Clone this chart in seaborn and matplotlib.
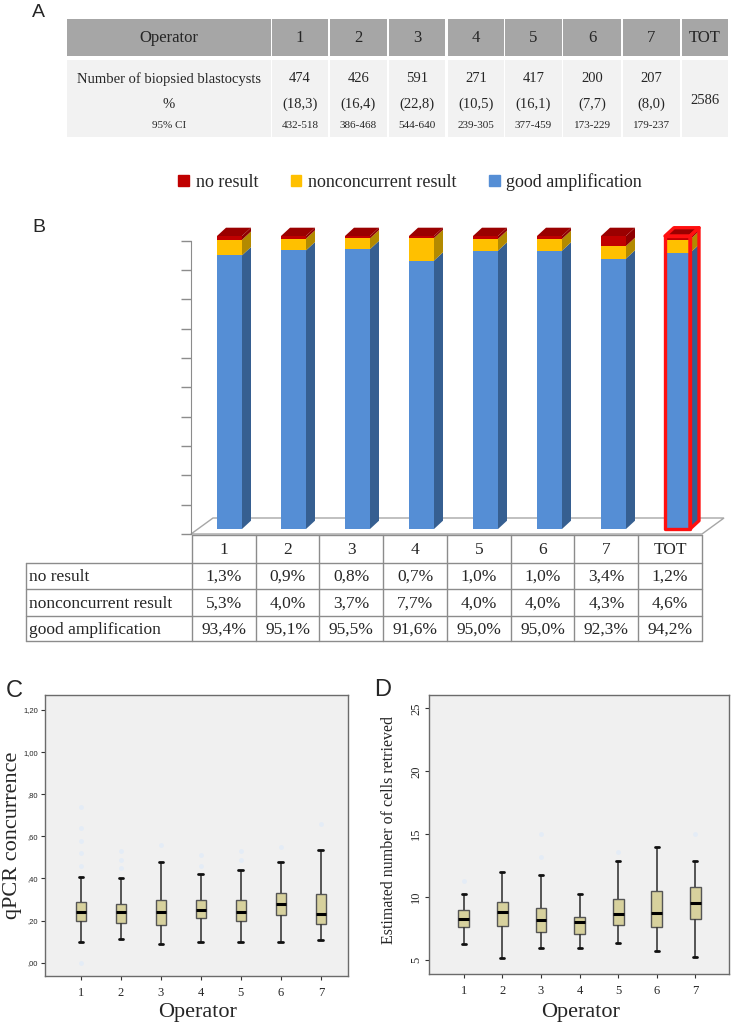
import numpy as np
import pandas as pd
import matplotlib
matplotlib.use("Agg")
import matplotlib.pyplot as plt
import seaborn as sns
from matplotlib.patches import Rectangle, Patch
from matplotlib.font_manager import FontProperties

# ---------------- data ----------------
operators = ["1", "2", "3", "4", "5", "6", "7"]
table_a_counts = [474, 426, 591, 271, 417, 200, 207]
table_a_pct = ["(18,3)", "(16,4)", "(22,8)", "(10,5)", "(16,1)", "(7,7)", "(8,0)"]
table_a_ci = ["432-518", "386-468", "544-640", "239-305", "377-459", "173-229", "179-237"]
table_a_total = 2586

bar_categories = ["1", "2", "3", "4", "5", "6", "7", "TOT"]
series_names = ["no result", "nonconcurrent result", "good amplification"]
no_result = [1.3, 0.9, 0.8, 0.7, 1.0, 1.0, 3.4, 1.2]
nonconcurrent = [5.3, 4.0, 3.7, 7.7, 4.0, 4.0, 4.3, 4.6]
good_amp = [93.4, 95.1, 95.5, 91.6, 95.0, 95.0, 92.3, 94.2]

# panel C: qPCR concurrence five-number summaries
qpcr_low = [0.10, 0.112, 0.091, 0.10, 0.10, 0.10, 0.11]
qpcr_q1 = [0.198, 0.189, 0.18, 0.211, 0.198, 0.227, 0.183]
qpcr_med = [0.241, 0.241, 0.241, 0.249, 0.243, 0.28, 0.23]
qpcr_q3 = [0.29, 0.277, 0.30, 0.30, 0.30, 0.331, 0.324]
qpcr_high = [0.409, 0.40, 0.48, 0.419, 0.439, 0.48, 0.535]
qpcr_out_ops = ["1", "1", "1", "1", "1", "1", "2", "2", "2", "3", "4", "4", "5", "5", "6", "7"]
qpcr_out_vals = [0.0, 0.46, 0.52, 0.58, 0.64, 0.74, 0.45, 0.49, 0.53, 0.56, 0.46, 0.51, 0.49, 0.53, 0.55, 0.66]
c_ytick_vals = [0.0, 0.2, 0.4, 0.6, 0.8, 1.0, 1.2]
c_ytick_labels = [",00", ",20", ",40", ",60", ",80", "1,00", "1,20"]

# panel D: estimated number of cells retrieved
cells_low = [6.25, 5.13, 5.98, 5.98, 6.33, 5.74, 5.27]
cells_q1 = [7.66, 7.74, 7.23, 7.05, 7.77, 7.66, 8.30]
cells_med = [8.27, 8.78, 8.19, 8.0, 8.67, 8.72, 9.57]
cells_q3 = [8.99, 9.65, 9.10, 8.38, 9.84, 10.45, 10.80]
cells_high = [10.24, 12.0, 11.73, 10.24, 12.9, 14.0, 12.9]
cells_out_ops = ["1", "3", "3", "5", "7"]
cells_out_vals = [11.3, 13.2, 15.0, 13.6, 15.0]
d_ytick_vals = [5, 10, 15, 20, 25]

# ---------------- style ----------------
sns.set_style("white")
plt.rcParams["font.family"] = ["Liberation Serif", "DejaVu Serif"]
SANS = ["Liberation Sans", "DejaVu Sans"]

RED, RED_SIDE, RED_TOP = "#c00000", "#8e0000", "#9a0000"
YEL, YEL_SIDE = "#ffc000", "#b38a00"
BLUE, BLUE_SIDE = "#558ed5", "#365f91"
BOX_FILL = "#d7d19d"
OUTLIER = "#e4ecf6"

W, H = 735, 1028
fig = plt.figure(figsize=(W / 100, H / 100), dpi=100)


def px_axes(l, t, r, b):
    return fig.add_axes([l / W, 1 - b / H, (r - l) / W, (b - t) / H])


over = px_axes(0, 0, W, H)
over.set_xlim(0, W)
over.set_ylim(H, 0)
over.axis("off")
over.set_zorder(0)

# panel labels
for lab, lx, ly, fs in [("A", 32, 4, 14), ("B", 32, 219, 14), ("C", 6, 680, 17), ("D", 374, 679, 17)]:
    fig.text(lx / W, 1 - ly / H, lab, ha="left", va="top", fontsize=fs, family=SANS)

# ---------------- panel A table ----------------
op_l, op_r = 67, 271
a_cols = [(272, 328), (330, 387), (389, 445), (448, 504), (505, 562), (563, 621), (623, 680), (682, 728)]
hdr_t, hdr_b = 19, 56
body_t, body_b = 60, 137
for (l, r) in [(op_l, op_r)] + a_cols:
    over.add_patch(Rectangle((l, hdr_t), r - l, hdr_b - hdr_t, color="#a6a6a6", lw=0))
    over.add_patch(Rectangle((l, body_t), r - l, body_b - body_t, color="#f2f2f2", lw=0))
hy = (hdr_t + hdr_b) / 2
over.text((op_l + op_r) / 2, hy, "Operator", ha="center", va="center", fontsize=12)
for (l, r), lab in zip(a_cols, operators + ["TOT"]):
    over.text((l + r) / 2, hy, lab, ha="center", va="center", fontsize=12)
row_y = [79, 104, 126]
over.text((op_l + op_r) / 2, row_y[0], "Number of biopsied blastocysts", ha="center", va="center", fontsize=10.5)
over.text((op_l + op_r) / 2, row_y[1], "%", ha="center", va="center", fontsize=10.5)
over.text((op_l + op_r) / 2, row_y[2], "95% CI", ha="center", va="center", fontsize=8)
for (l, r), n, p, ci in zip(a_cols[:-1], table_a_counts, table_a_pct, table_a_ci):
    cx = (l + r) / 2
    over.text(cx, row_y[0], str(n), ha="center", va="center", fontsize=10.5)
    over.text(cx, row_y[1], p, ha="center", va="center", fontsize=10.5)
    over.text(cx, row_y[2], ci, ha="center", va="center", fontsize=8)
l, r = a_cols[-1]
over.text((l + r) / 2, 100, str(table_a_total), ha="center", va="center", fontsize=10.5)

# ---------------- panel B legend ----------------
handles = [Patch(color=c, label=s) for c, s in zip([RED, YEL, BLUE], series_names)]
fig.legend(handles=handles, loc="center", bbox_to_anchor=(410 / W, 1 - 182 / H), ncol=3,
           frameon=False, prop=FontProperties(family="Liberation Serif", size=13),
           handlelength=0.6, handleheight=0.6, handletextpad=0.35, columnspacing=1.8,
           borderpad=0, borderaxespad=0)

# floor of the 3-D chart
over.fill([191, 213, 724, 702], [534, 518, 518, 534], facecolor="white", edgecolor="#a6a6a6", lw=1)

# value axis (ticks only)
ax_axis = px_axes(191, 240.7, 700, 534)
ax_axis.set_zorder(1)
ax_axis.patch.set_visible(False)
ax_axis.set_ylim(0, 100)
ax_axis.set_yticks(np.arange(0, 101, 10))
ax_axis.set_yticklabels([])
ax_axis.set_xticks([])
for s in ["top", "right", "bottom"]:
    ax_axis.spines[s].set_visible(False)
ax_axis.spines["left"].set_color("#8c8c8c")
ax_axis.tick_params(axis="y", direction="out", length=7, width=1, color="#8c8c8c", left=True)

# bars
bar_x0, bar_step, zero_px, full_px = 229.5, 64.0, 529.0, 236.0
per_pct = (zero_px - full_px) / 100.0
ax_b = px_axes(191, 215, 735, 534)
ax_b.set_zorder(2)
ax_b.patch.set_visible(False)
ax_b.set_xlim((191 - bar_x0) / bar_step, (735 - bar_x0) / bar_step)
ax_b.set_ylim(-(534 - zero_px) / per_pct, (zero_px - 215) / per_pct)
ax_b.axis("off")
bw = 25 / bar_step
dx = 9 / bar_step
dy = 8.3 / per_pct
xs = np.arange(len(bar_categories))
bottom = np.zeros(len(xs))
for vals, cf, cs in [(good_amp, BLUE, BLUE_SIDE), (nonconcurrent, YEL, YEL_SIDE), (no_result, RED, RED_SIDE)]:
    vals = np.asarray(vals, dtype=float)
    ax_b.bar(xs, vals, bottom=bottom, width=bw, color=cf, linewidth=0, zorder=2)
    for xi, b0, v in zip(xs, bottom, vals):
        xr = xi + bw / 2
        ax_b.fill([xr, xr + dx, xr + dx, xr], [b0, b0 + dy, b0 + v + dy, b0 + v], color=cs, lw=0, zorder=2)
    bottom = bottom + vals
for xi, top in zip(xs, bottom):
    ax_b.fill([xi - bw / 2, xi + bw / 2, xi + bw / 2 + dx, xi - bw / 2 + dx], [top, top, top + dy, top + dy],
              color=RED_TOP, lw=0, zorder=3)
# highlight TOT
ti = bar_categories.index("TOT")
tt = bottom[ti]
ax_b.bar([ti], [tt], width=bw, fill=False, edgecolor="#ff1010", linewidth=2.4, zorder=5, joinstyle="round")
xr = ti + bw / 2
ax_b.fill([xr, xr + dx, xr + dx, xr], [0, dy, tt + dy, tt], fill=False, edgecolor="#ff1010", lw=2.4, zorder=5,
          joinstyle="round")
ax_b.fill([ti - bw / 2, xr, xr + dx, ti - bw / 2 + dx], [tt, tt, tt + dy, tt + dy], fill=False,
          edgecolor="#ff1010", lw=2.4, zorder=5, joinstyle="round")

# data table under chart
t_lab_l, t_l, t_r = 26, 192, 702
t_hdr_t = 535
t_rows = [563, 589, 616, 641]
col_w = (t_r - t_l) / len(bar_categories)
gc = "#8c8c8c"
over.plot([t_l, t_r], [t_hdr_t, t_hdr_t], color=gc, lw=1)
for y in t_rows:
    over.plot([t_lab_l, t_r], [y, y], color=gc, lw=1)
over.plot([t_lab_l, t_lab_l], [t_rows[0], t_rows[-1]], color=gc, lw=1)
for k in range(len(bar_categories) + 1):
    xk = t_l + k * col_w
    over.plot([xk, xk], [t_hdr_t, t_rows[-1]], color=gc, lw=1)
for k, lab in enumerate(bar_categories):
    over.text(t_l + (k + 0.5) * col_w, (t_hdr_t + t_rows[0]) / 2 + 1, lab, ha="center", va="center", fontsize=12.5)
for ri, (name, vals) in enumerate(zip(series_names, [no_result, nonconcurrent, good_amp])):
    yc = (t_rows[ri] + t_rows[ri + 1]) / 2 + 1
    over.text(t_lab_l + 3, yc, name, ha="left", va="center", fontsize=12.5)
    for k, v in enumerate(vals):
        over.text(t_l + (k + 0.5) * col_w, yc, f"{v:.1f}%".replace(".", ","), ha="center", va="center",
                  fontsize=12.5)


# ---------------- panels C and D ----------------
def box_panel(ax, low, q1, med, q3, high, out_ops, out_vals, width, capw):
    df = pd.DataFrame({"Operator": np.repeat(operators, 5),
                       "value": np.column_stack([low, q1, med, q3, high]).ravel()})
    sns.stripplot(x=out_ops, y=out_vals, order=operators, jitter=False, color=OUTLIER, size=3.5,
                  linewidth=0, ax=ax, zorder=1)
    sns.boxplot(data=df, x="Operator", y="value", order=operators, whis=(0, 100), width=width,
                color=BOX_FILL, saturation=1, linecolor="#555555", linewidth=1.0,
                medianprops=dict(color="black", linewidth=2.2),
                capprops=dict(color="#111111", linewidth=2.0),
                whiskerprops=dict(color="#3a3a3a", linewidth=1.2),
                capwidths=capw, ax=ax, zorder=3)
    ax.set_facecolor("#f0f0f0")
    for s in ax.spines.values():
        s.set_visible(True)
        s.set_color("#6b6b6b")
        s.set_linewidth(1.0)
    ax.set_xlabel("")
    ax.set_ylabel("")
    ax.tick_params(axis="x", direction="out", length=3, width=0.8, color="#333333", labelsize=9, pad=5,
                   bottom=True)
    ax.tick_params(axis="y", direction="out", length=3, width=0.8, color="#333333", left=True)


ax_c = px_axes(45, 695, 348, 976)
ax_c.set_zorder(1)
box_panel(ax_c, qpcr_low, qpcr_q1, qpcr_med, qpcr_q3, qpcr_high, qpcr_out_ops, qpcr_out_vals, 0.25, 0.12)
ax_c.set_xlim(-0.9, 6.68)
ax_c.set_ylim(-0.063, 1.271)
ax_c.set_yticks(c_ytick_vals)
ax_c.set_yticklabels(c_ytick_labels, family=SANS, fontsize=5.5)
ax_c.tick_params(axis="y", pad=2)
fig.text(13 / W, 1 - 835 / H, "qPCR concurrence", rotation=90, ha="center", va="center", fontsize=16)
fig.text(198 / W, 1 - 1013 / H, "Operator", ha="center", va="center", fontsize=16)

ax_d = px_axes(429, 695, 729, 974)
ax_d.set_zorder(1)
box_panel(ax_d, cells_low, cells_q1, cells_med, cells_q3, cells_high, cells_out_ops, cells_out_vals, 0.28, 0.1)
ax_d.set_xlim(-0.9, 6.87)
ax_d.set_ylim(3.89, 26.06)
ax_d.set_yticks(d_ytick_vals)
ax_d.set_yticklabels([str(v) for v in d_ytick_vals], rotation=90, va="center", fontsize=9)
ax_d.tick_params(axis="y", pad=2)
fig.text(389 / W, 1 - 830 / H, "Estimated number of cells retrieved", rotation=90, ha="center", va="center",
         fontsize=11.5)
fig.text(581 / W, 1 - 1012 / H, "Operator", ha="center", va="center", fontsize=16)

fig.savefig("out.png", dpi=100, facecolor="white")
